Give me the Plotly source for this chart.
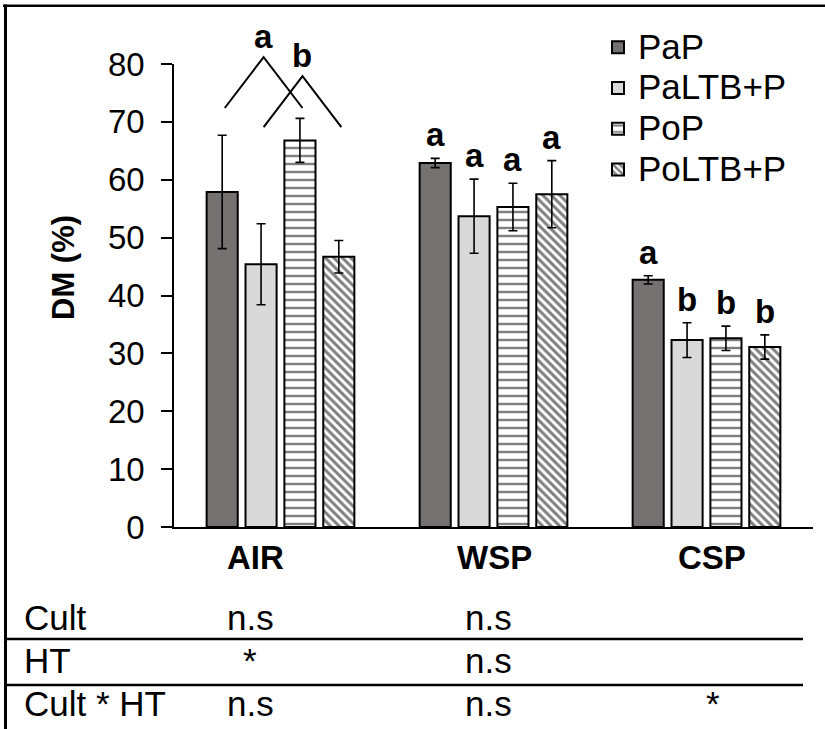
import plotly.graph_objects as go

# ---------------- data ----------------
categories = ["AIR", "WSP", "CSP"]
series_names = ["PaP", "PaLTB+P", "PoP", "PoLTB+P"]
pap = [57.9, 62.9, 42.7]
paltb = [45.4, 53.7, 32.3]
pop = [66.8, 55.3, 32.6]
poltb = [46.7, 57.5, 31.1]
pap_err = [9.8, 0.8, 0.7]
paltb_err = [7.0, 6.4, 3.0]
pop_err = [3.8, 4.1, 2.1]
poltb_err = [2.8, 5.8, 2.1]
# significance letters per bar (WSP, CSP); AIR uses grouped brackets
wsp_letters = ["a", "a", "a", "a"]
csp_letters = ["a", "b", "b", "b"]
air_group_letters = ["a", "b"]
table_rows = ["Cult", "HT", "Cult * HT"]
table_air = ["n.s", "*", "n.s"]
table_wsp = ["n.s", "n.s", "n.s"]
table_csp = ["", "", "*"]
y_ticks = [0, 10, 20, 30, 40, 50, 60, 70, 80]

FONT = "Liberation Sans, Arial, sans-serif"
W, H = 825, 729
X0, X1, Y0, Y1 = 174, 813, 527, 64  # plot area pixels
LABEL_SHIFT = [-25, 1, 5]  # pixel nudges of the category labels


def px(x):
    return (x - X0) / (X1 - X0)


def py(y):
    return (Y0 - y) / (Y0 - Y1)


def dx(v):  # data x -> paper
    return (v + 0.5) / 3.0


def dy(v):  # data y -> paper
    return v / 80.0


xs = list(range(len(categories)))
values = [pap, paltb, pop, poltb]
errs = [pap_err, paltb_err, pop_err, poltb_err]
styles = [
    dict(color="#757171"),
    dict(color="#d9d9d9"),
    dict(color="white", pattern=dict(shape="-", fgcolor="black", bgcolor="white", size=8, solidity=0.3)),
    dict(color="white", pattern=dict(shape="\\", fgcolor="black", bgcolor="white", size=6, solidity=0.5)),
]

fig = go.Figure()
for name, v, e, st in zip(series_names, values, errs, styles):
    fig.add_trace(go.Bar(
        x=xs, y=v, name="<span style='font-size:35px'>%s</span>" % name,
        marker=dict(line=dict(color="black", width=2), **st),
        error_y=dict(type="data", array=e, visible=True, color="black", thickness=1.6, width=4.5),
    ))

BARGAP, GROUPGAP = 0.27, 0.2
slot = (1 - BARGAP) / 4
offsets = [(-1.5 + i) * slot for i in range(4)]

annotations = []
# category labels
for i, c in enumerate(categories):
    annotations.append(dict(x=xs[i], y=0, xref="x", yref="y", text="<b>%s</b>" % c, showarrow=False,
                            xanchor="center", yanchor="top", yshift=-10, xshift=LABEL_SHIFT[i],
                            font=dict(family=FONT, size=33, color="black")))

# letters over WSP and CSP bars
for ci, letters in [(1, wsp_letters), (2, csp_letters)]:
    for si, let in enumerate(letters):
        top = values[si][ci] + errs[si][ci]
        annotations.append(dict(
            x=xs[ci] + offsets[si], y=top, xref="x", yref="y", text="<b>%s</b>" % let,
            showarrow=False, xanchor="center", yanchor="bottom", yshift=3,
            font=dict(family=FONT, size=33, color="black")))

# AIR brackets (inverted V), connecting PaP-PoP and PaLTB-PoLTB
shapes = []
bracket_pairs = [(0, 2), (1, 3)]
bracket_base = [72.4, 69.1]
bracket_peak = [81.2, 77.9]
for (a, b), base, peak, let in zip(bracket_pairs, bracket_base, bracket_peak, air_group_letters):
    xa = xs[0] + offsets[a] + 0.012
    xb = xs[0] + offsets[b] + 0.012
    xm = (xa + xb) / 2
    shapes.append(dict(type="path", xref="paper", yref="paper",
                       path="M %f %f L %f %f L %f %f" % (dx(xa), dy(base), dx(xm), dy(peak), dx(xb), dy(base)),
                       line=dict(color="black", width=2)))
    annotations.append(dict(x=dx(xm), y=dy(peak), xref="paper", yref="paper", text="<b>%s</b>" % let,
                            showarrow=False, xanchor="center", yanchor="bottom", yshift=0,
                            font=dict(family=FONT, size=33, color="black")))

# y axis title
annotations.append(dict(x=px(63), y=py(268), xref="paper", yref="paper", text="<b>DM (%)</b>",
                        textangle=-90, showarrow=False, xanchor="center", yanchor="middle",
                        font=dict(family=FONT, size=31, color="black")))

# table below the chart
row_y = [617, 660, 703]
col_x = [250, 488, 713]
for r, label in enumerate(table_rows):
    annotations.append(dict(x=px(22), y=py(row_y[r]), xref="paper", yref="paper", text=label,
                            showarrow=False, xanchor="left", yanchor="middle",
                            font=dict(family=FONT, size=35, color="black")))
    for c, col in enumerate([table_air, table_wsp, table_csp]):
        if col[r]:
            annotations.append(dict(x=px(col_x[c]), y=py(row_y[r]), xref="paper", yref="paper", text=col[r],
                                    showarrow=False, xanchor="center", yanchor="middle",
                                    font=dict(family=FONT, size=35, color="black")))

for yl in [639, 685]:
    shapes.append(dict(type="line", xref="paper", yref="paper", x0=px(4), x1=px(803), y0=py(yl), y1=py(yl),
                       line=dict(color="black", width=2.5)))
# outer frame (top and left)
shapes.append(dict(type="rect", xref="paper", yref="paper", x0=px(3), x1=px(825.5), y0=py(4.5), y1=py(7),
                   fillcolor="black", line=dict(width=0)))
shapes.append(dict(type="rect", xref="paper", yref="paper", x0=px(4), x1=px(7), y0=py(4.5), y1=py(729.5),
                   fillcolor="black", line=dict(width=0)))

fig.update_layout(
    width=W, height=H,
    margin=dict(l=X0, r=W - X1, t=Y1, b=H - Y0, pad=0),
    paper_bgcolor="white", plot_bgcolor="white",
    barmode="group", bargap=BARGAP, bargroupgap=GROUPGAP,
    font=dict(family=FONT, color="black"),
    showlegend=True,
    legend=dict(x=px(598), y=py(22), xanchor="left", yanchor="top", bgcolor="rgba(0,0,0,0)",
                font=dict(family=FONT, size=29, color="black"), tracegroupgap=0, itemwidth=30),
    xaxis=dict(range=[-0.5, 2.5], tickvals=xs, showticklabels=False,
               showline=True, linecolor="black", linewidth=1.5, ticks="", showgrid=False, zeroline=False),
    yaxis=dict(range=[0, 80], tickvals=y_ticks, showline=True, linecolor="black", linewidth=1.5,
               ticks="outside", ticklen=11, tickwidth=1.5, tickcolor="black", showgrid=False, zeroline=False,
               ticklabelstandoff=10, tickfont=dict(family=FONT, size=33, color="black")),
    shapes=shapes, annotations=annotations,
)

fig.write_html("out.html", config={"displayModeBar": False},
               post_script="document.body.style.margin='0px';document.body.style.overflow='hidden';"
                           "var d=document.getElementsByClassName('plotly-graph-div')[0];"
                           "d.style.position='absolute';d.style.left='0px';d.style.top='0px';")
